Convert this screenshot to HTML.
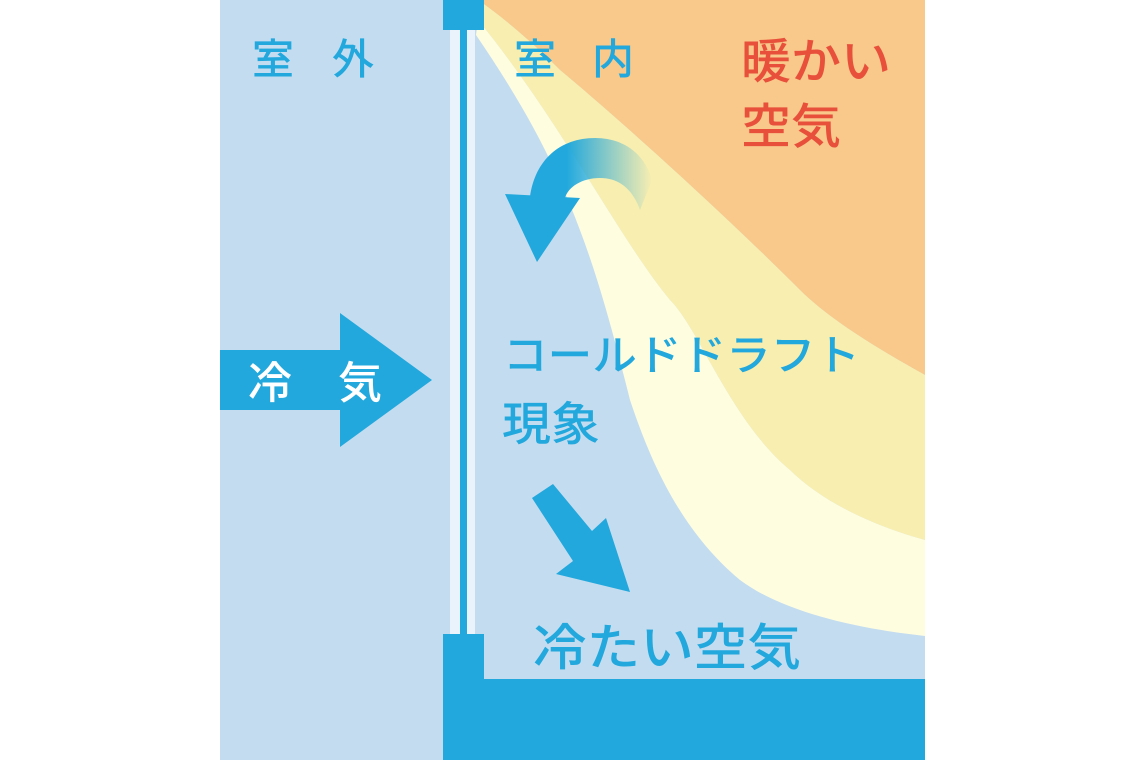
<!DOCTYPE html>
<html><head><meta charset="utf-8"><style>
body{margin:0;width:1140px;height:760px;background:#fff;overflow:hidden}
svg text{font-family:"Liberation Sans","Noto Sans CJK JP",sans-serif;font-weight:500}
</style></head><body>
<svg width="1140" height="760" viewBox="0 0 1140 760">
<defs>
<linearGradient id="fade" x1="0" y1="0" x2="1" y2="0">
<stop offset="0.3" stop-color="#22a8dc"/>
<stop offset="1" stop-color="#22a8dc" stop-opacity="0"/>
</linearGradient>
</defs>
<rect x="220" y="0" width="705" height="760" fill="#c3dcf0"/>
<path d="M478 0 L925 0 L925 375 C880 350 830 320 800 290 C720 210 620 120 560 70 C530 40 500 15 478 0Z" fill="#f8c98a"/>
<path d="M478 0 C500 15 530 40 560 70 C620 120 720 210 800 290 C830 320 880 350 925 375 L925 540 C870 525 820 500 790 470 C730 420 700 330 670 300 C620 240 560 120 478 20Z" fill="#f8eeb0"/>
<path d="M478 20 C560 120 620 240 670 300 C700 330 730 420 790 470 C820 500 870 525 925 540 L925 636 C850 628 780 610 740 580 C680 530 650 460 630 400 C605 300 585 230 545 150 C525 110 500 70 476 35Z" fill="#fefde0"/>
<rect x="450" y="28" width="25" height="610" fill="#eaf2fb"/>
<rect x="460" y="28" width="7" height="610" fill="#22a8dc"/>
<rect x="443" y="0" width="41" height="30" fill="#22a8dc"/>
<rect x="443" y="634" width="41" height="126" fill="#22a8dc"/>
<rect x="443" y="679" width="482" height="81" fill="#22a8dc"/>
<path d="M530 197 C535 160 560 138 595 138 C625 138 645 155 652 180 L640 210 C633 190 620 178 600 178 C582 178 568 187 565 198Z" fill="url(#fade)"/>
<path d="M505 194 L580 198 L537 262Z" fill="#22a8dc"/>
<path d="M220 350 L340 350 L340 313 L432 380 L340 447 L340 410 L220 410Z" fill="#22a8dc"/>
<path d="M532 498 L553 484 L592 531 L606 518 L630 592 L556 574 L573 561Z" fill="#22a8dc"/>
<g fill="#22a8dc">
<text x="252" y="74" font-size="42">室</text><text x="332" y="74" font-size="42">外</text>
<text x="514" y="74" font-size="42">室</text><text x="592" y="74" font-size="42">内</text>
<text x="503" y="370" font-size="42" textLength="357" lengthAdjust="spacingAndGlyphs">コールドドラフト</text>
<text x="502" y="440" font-size="46" textLength="98" lengthAdjust="spacingAndGlyphs">現象</text>
<text x="533" y="665" font-size="50" textLength="268" lengthAdjust="spacingAndGlyphs">冷たい空気</text>
</g>
<g fill="#e8503c">
<text x="741" y="78" font-size="48" textLength="150" lengthAdjust="spacingAndGlyphs">暖かい</text>
<text x="741" y="143" font-size="48" textLength="100" lengthAdjust="spacingAndGlyphs">空気</text>
</g>
<g fill="#fff" font-size="44"><text x="248" y="398">冷</text><text x="338" y="398">気</text></g>
</svg>
</body></html>
